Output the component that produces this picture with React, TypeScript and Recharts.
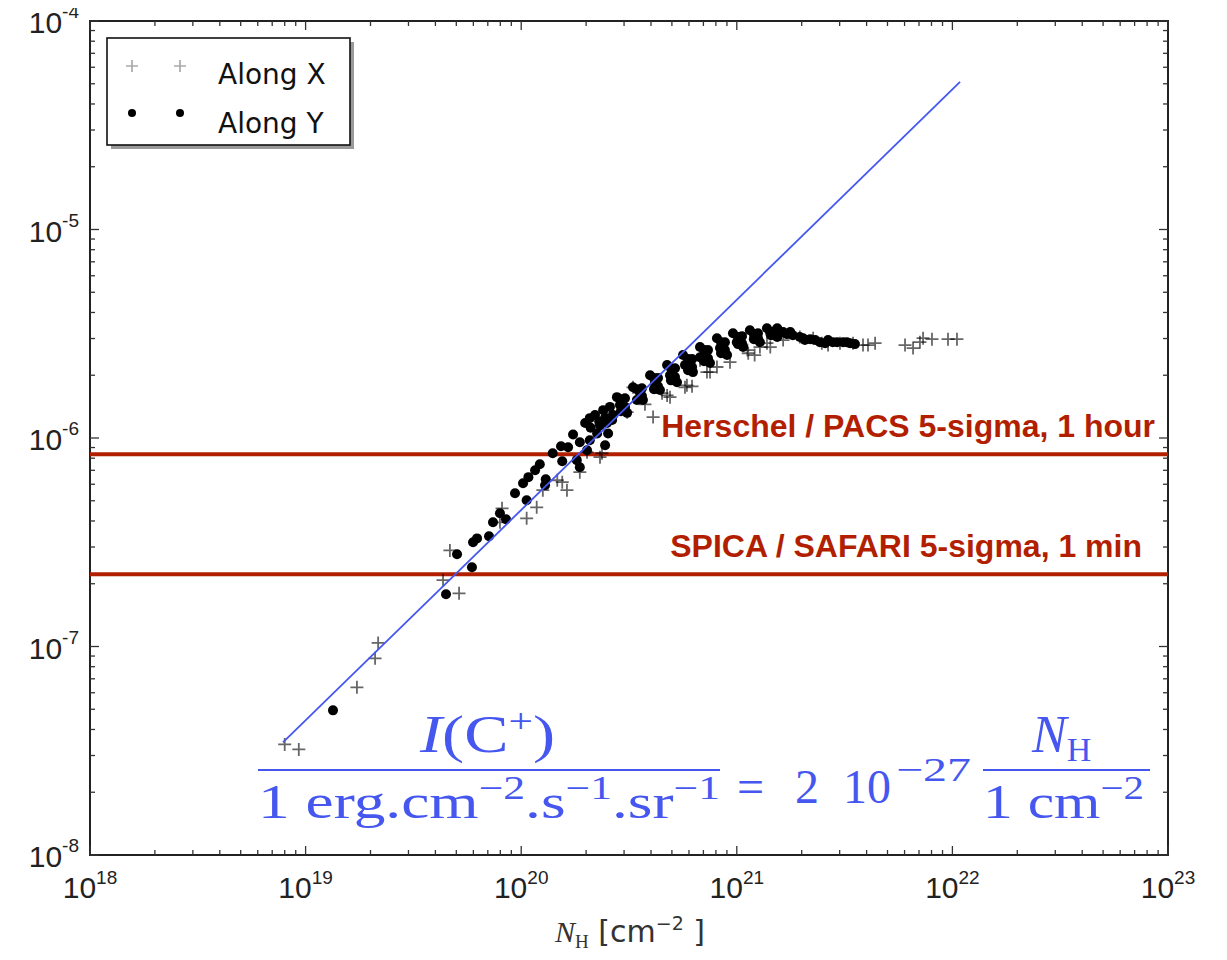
import React from 'react';
import {
  ScatterChart,
  Scatter,
  XAxis,
  YAxis,
  ReferenceLine,
  ReferenceArea,
  Customized,
} from 'recharts';

// ---------- data ----------
const X_DECADES = [1e18, 1e19, 1e20, 1e21, 1e22, 1e23];
const X_EXPONENTS = ['18', '19', '20', '21', '22', '23'];
const Y_DECADES = [1e-8, 1e-7, 1e-6, 1e-5, 1e-4];
const Y_EXPONENTS = ['-8', '-7', '-6', '-5', '-4'];
const MINOR_MULTIPLIERS = [2, 3, 4, 5, 6, 7, 8, 9];

// Along X : [N_H (cm^-2), I(C+) (erg cm^-2 s^-1 sr^-1)]
const alongX: [number, number][] = [
  [8.0e18, 3.39e-8], [9.3e18, 3.21e-8], [1.73e19, 6.37e-8], [2.1e19, 8.78e-8],
  [2.17e19, 1.04e-7], [4.34e19, 2.08e-7], [5.15e19, 1.8e-7], [4.67e19, 2.89e-7],
  [8.15e19, 4.6e-7], [7.97e19, 3.94e-7], [1.06e20, 4.12e-7], [1.18e20, 4.65e-7],
  [1.26e20, 5.62e-7], [1.55e20, 6.14e-7], [1.63e20, 5.62e-7], [1.87e20, 6.86e-7],
  [2.37e20, 8.45e-7], [2.02e20, 8.55e-7], [2.58e20, 1.32e-6], [2.32e20, 8.09e-7],
  [1.47e20, 6.27e-7], [4.09e20, 1.26e-6], [3.75e20, 1.45e-6], [3.1e20, 1.33e-6],
  [4.75e20, 1.6e-6], [5.75e20, 1.75e-6], [4.5e20, 1.64e-6], [4.9e20, 1.57e-6],
  [5.87e20, 1.79e-6], [6.2e20, 1.77e-6], [7.27e20, 2.07e-6], [7.51e20, 2.07e-6],
  [8.09e20, 2.19e-6], [9.3e20, 2.31e-6], [1.12e21, 2.64e-6], [1.13e21, 2.55e-6],
  [1.21e21, 2.5e-6], [1.28e21, 2.73e-6], [1.38e21, 2.85e-6], [1.43e21, 2.73e-6],
  [2.26e21, 3.01e-6], [2.48e21, 2.85e-6], [2.65e21, 2.79e-6], [3.01e21, 2.85e-6],
  [3.46e21, 2.85e-6], [3.85e21, 2.79e-6], [4.06e21, 2.79e-6], [4.38e21, 2.85e-6],
  [6.03e21, 2.79e-6], [6.57e21, 2.7e-6], [7.07e21, 2.88e-6], [7.31e21, 3.01e-6],
  [8.04e21, 2.98e-6], [9.54e21, 2.98e-6], [1.05e22, 2.98e-6], [3.3e20, 1.75e-6],
  [6.75e20, 2.36e-6], [1.64e21, 2.95e-6], [1.96e21, 3.05e-6],
];

// Along Y
const alongY: [number, number][] = [
  [1.34e19, 4.94e-8], [4.48e19, 1.78e-7], [5.04e19, 2.77e-7], [5.91e19, 2.4e-7],
  [5.98e19, 3.16e-7], [6.24e19, 3.3e-7], [7.09e19, 3.38e-7], [7.4e19, 3.94e-7],
  [8.5e19, 4.08e-7], [7.97e19, 4.36e-7], [9.36e19, 5.43e-7], [1.02e20, 6.07e-7],
  [1.08e20, 6.49e-7], [1.06e20, 5.03e-7], [1.16e20, 7.01e-7], [1.22e20, 7.49e-7],
  [1.3e20, 6.34e-7], [1.29e20, 5.94e-7], [1.4e20, 8.45e-7], [1.55e20, 7.74e-7],
  [1.53e20, 9.13e-7], [1.65e20, 9.03e-7], [1.74e20, 1.04e-6], [1.81e20, 7.83e-7],
  [1.87e20, 7.24e-7], [1.87e20, 9.54e-7], [1.98e20, 1.18e-6], [2.02e20, 8.74e-7],
  [2.2e20, 1.29e-6], [2.25e20, 1.05e-6], [2.4e20, 1.36e-6], [2.53e20, 1.05e-6],
  [2.58e20, 1.41e-6], [2.1e20, 1.12e-6], [2.3e20, 1.2e-6], [2.45e20, 1.25e-6],
  [2.08e20, 9.76e-7], [2.32e20, 1.15e-6], [2.45e20, 9.23e-7], [2.64e20, 1.22e-6],
  [2.08e20, 1.245e-6],
  [2.78e20, 1.57e-6], [3.3e20, 1.75e-6], [3.96e20, 2.0e-6], [4.75e20, 2.24e-6],
  [5.63e20, 2.5e-6], [6.75e20, 2.73e-6], [8.09e20, 3.01e-6], [9.6e20, 3.18e-6],
  [1.15e21, 3.29e-6], [1.38e21, 3.36e-6], [1.54e21, 3.36e-6], [1.64e21, 3.22e-6],
  [1.77e21, 3.22e-6], [1.96e21, 3.05e-6], [2.31e21, 2.95e-6],
  [2.5e20, 1.18e-6], [3.1e20, 1.32e-6], [3.67e20, 1.52e-6], [4.4e20, 1.7e-6],
  [5.28e20, 1.85e-6], [6.26e20, 2.07e-6], [7.51e20, 2.29e-6], [9.01e20, 2.5e-6],
  [1.07e21, 2.73e-6], [1.28e21, 2.88e-6], [1.54e21, 3.05e-6],
  [2.67e20, 1.29e-6], [2.87e20, 1.44e-6], [3.56e20, 1.64e-6], [4.17e20, 1.83e-6],
  [4.9e20, 2.0e-6], [5.75e20, 2.24e-6], [6.75e20, 2.44e-6], [8.36e20, 2.7e-6],
  [1.0e21, 2.88e-6], [1.21e21, 3.05e-6], [1.43e21, 3.18e-6], [1.82e21, 3.11e-6],
  [2.03e21, 3.01e-6],
  [3.03e20, 1.55e-6], [3.63e20, 1.73e-6], [4.31e20, 1.94e-6], [5.17e20, 2.16e-6],
  [6.2e20, 2.39e-6], [7.35e20, 2.64e-6], [8.81e20, 2.88e-6], [1.057e21, 3.08e-6],
  [1.254e21, 3.18e-6], [1.504e21, 3.25e-6],
  [3.03e20, 1.41e-6], [3.63e20, 1.59e-6], [4.31e20, 1.77e-6], [5.17e20, 1.96e-6],
  [6.2e20, 2.19e-6], [7.35e20, 2.41e-6], [8.81e20, 2.64e-6], [1.057e21, 2.85e-6],
  [1.254e21, 3.01e-6], [1.504e21, 3.11e-6],
  [2.9e20, 1.535e-6], [2.9e20, 1.345e-6], [3.44e20, 1.715e-6], [3.44e20, 1.52e-6],
  [4.13e20, 1.94e-6], [4.13e20, 1.715e-6], [4.95e20, 2.16e-6], [4.95e20, 1.89e-6],
  [5.94e20, 2.39e-6], [5.94e20, 2.115e-6], [7.05e20, 2.64e-6], [7.05e20, 2.335e-6],
  [8.45e20, 2.88e-6], [8.45e20, 2.55e-6], [1.013e21, 3.05e-6], [1.013e21, 2.82e-6],
  [1.2e21, 3.15e-6], [1.2e21, 2.98e-6], [1.44e21, 3.22e-6], [1.44e21, 3.11e-6],
  [1.71e21, 3.15e-6],
  [2.07e21, 2.95e-6], [2.19e21, 2.98e-6], [2.43e21, 2.88e-6], [2.57e21, 2.85e-6],
  [2.79e21, 2.88e-6], [3.35e21, 2.85e-6], [3.53e21, 2.82e-6],
  [2.65e21, 2.95e-6], [2.92e21, 2.88e-6], [3.11e21, 2.88e-6], [3.24e21, 2.88e-6],
];

// linear fit drawn in the figure
const fitLine: [number, number][] = [
  [7.85e18, 3.47e-8],
  [1.085e22, 5.1e-5],
];

// detection limits
const LIMIT_VALUES = [8.36e-7, 2.22e-7];
const LIMIT_LABELS = ['Herschel / PACS 5-sigma, 1 hour', 'SPICA / SAFARI 5-sigma, 1 min'];
const LIMIT_LABEL_INSET = [13, 26];

const SERIES_NAMES = ['Along X', 'Along Y'];

// ---------- derived ----------
const toPoints = (arr: [number, number][]) => arr.map(([x, y]) => ({ x, y }));
const xTicks = X_DECADES.flatMap((d, i) =>
  i < X_DECADES.length - 1 ? [d, ...MINOR_MULTIPLIERS.map((m) => d * m)] : [d]
);
const yTicks = Y_DECADES.flatMap((d, i) =>
  i < Y_DECADES.length - 1 ? [d, ...MINOR_MULTIPLIERS.map((m) => d * m)] : [d]
);
const isMajor = (v: number) => {
  const l = Math.log10(v);
  return Math.abs(l - Math.round(l)) < 1e-6;
};

// ---------- styling ----------
const W = 1219;
const H = 952;
const MARGIN = { top: 21, right: 51, bottom: 0, left: 0 };
const Y_AXIS_W = 90;
const X_AXIS_H = 97;
const PLOT_W = W - MARGIN.right - Y_AXIS_W;
const PLOT_H = H - MARGIN.top - X_AXIS_H;
const RED = '#b21f00';
const BLUE = '#4557ef';
const TICK_COLOR = '#333';
const TICK_FONT = "'Liberation Sans', Arial, sans-serif";
const MAJOR_LEN = 9;
const MINOR_LEN = 5;

const XTick = (props: any) => {
  const { x, y, payload } = props;
  const v = payload.value;
  const major = isMajor(v);
  const len = major ? MAJOR_LEN : MINOR_LEN;
  const idx = X_DECADES.findIndex((d) => Math.abs(Math.log10(d) - Math.log10(v)) < 1e-6);
  return (
    <g>
      <line x1={x} x2={x} y1={y} y2={y - len} stroke={TICK_COLOR} strokeWidth={1.3} />
      <line x1={x} x2={x} y1={y - PLOT_H} y2={y - PLOT_H + len} stroke={TICK_COLOR} strokeWidth={1.3} />
      {major && idx >= 0 && (
        <text x={x} y={y + 43} textAnchor="middle" fontFamily={TICK_FONT} fontSize={30} fill="#222">
          10<tspan dy={-14} fontSize={19}>{X_EXPONENTS[idx]}</tspan>
        </text>
      )}
    </g>
  );
};

const YTick = (props: any) => {
  const { x, y, payload } = props;
  const v = payload.value;
  const major = isMajor(v);
  const len = major ? MAJOR_LEN : MINOR_LEN;
  const idx = Y_DECADES.findIndex((d) => Math.abs(Math.log10(d) - Math.log10(v)) < 1e-6);
  return (
    <g>
      <line x1={x} x2={x + len} y1={y} y2={y} stroke={TICK_COLOR} strokeWidth={1.3} />
      <line x1={x + PLOT_W} x2={x + PLOT_W - len} y1={y} y2={y} stroke={TICK_COLOR} strokeWidth={1.3} />
      {major && idx >= 0 && (
        <text x={x - 11} y={y + 12} textAnchor="end" fontFamily={TICK_FONT} fontSize={30} fill="#222">
          10<tspan dy={-15} fontSize={19}>{Y_EXPONENTS[idx]}</tspan>
        </text>
      )}
    </g>
  );
};

const PlusShape = (props: any) => {
  const { cx, cy } = props;
  if (cx == null || cy == null) return <g />;
  return (
    <path
      d={`M${cx - 6.5},${cy}h13M${cx},${cy - 6.5}v13`}
      stroke="#000"
      strokeOpacity={0.6}
      strokeWidth={1.8}
      fill="none"
    />
  );
};

const DotShape = (props: any) => {
  const { cx, cy } = props;
  if (cx == null || cy == null) return <g />;
  return <circle cx={cx} cy={cy} r={5} fill="#000" />;
};

const NoShape = () => <g />;

const LimitLabel = (inset: number, text: string) => (props: any) => {
  const vb = props.viewBox || {};
  return (
    <text
      x={vb.x + vb.width - inset}
      y={vb.y - 17}
      textAnchor="end"
      fontFamily="'Liberation Sans', Arial, sans-serif"
      fontWeight="bold"
      fontSize={32}
      fill={RED}
    >
      {text}
    </text>
  );
};

const Overlay = () => {
  const serif = "'Liberation Serif', 'DejaVu Serif', serif";
  return (
    <g>
      {/* legend */}
      <rect x={111} y={42} width={243} height={107} fill="#9a9a9a" />
      <rect x={107} y={38} width={243} height={107} fill="#fff" stroke="#111" strokeWidth={1.6} />
      <path d="M126,66h12M132,60v12M174,66h12M180,60v12" stroke="#aaa" strokeWidth={1.7} />
      <circle cx={132} cy={113} r={4} fill="#000" />
      <circle cx={180} cy={113} r={4} fill="#000" />
      <text x={218} y={84} fontFamily="'DejaVu Sans', sans-serif" fontSize={28} fill="#111">
        {SERIES_NAMES[0]}
      </text>
      <text x={218} y={133} fontFamily="'DejaVu Sans', sans-serif" fontSize={28} fill="#111">
        {SERIES_NAMES[1]}
      </text>

      {/* formula */}
      <g fill={BLUE} fontFamily={serif}>
        <text x={420} y={752} fontSize={52} textLength={135} lengthAdjust="spacingAndGlyphs">
          <tspan fontStyle="italic">I</tspan>(C<tspan dy={-20} fontSize={34}>+</tspan>
          <tspan dy={20}>)</tspan>
        </text>
        <line x1={258} x2={720} y1={770} y2={770} stroke={BLUE} strokeWidth={2} />
        <text x={258} y={818} fontSize={48} textLength={462} lengthAdjust="spacingAndGlyphs">
          1 erg.cm<tspan dy={-19} fontSize={33}>−2</tspan>
          <tspan dy={19}>.s</tspan>
          <tspan dy={-19} fontSize={33}>−1</tspan>
          <tspan dy={19}>.sr</tspan>
          <tspan dy={-19} fontSize={33}>−1</tspan>
        </text>
        <text x={737} y={803} fontSize={48}>=</text>
        <text x={795} y={803} fontSize={48}>2</text>
        <text x={843} y={803} fontSize={48}>10</text>
        <text x={896} y={781} fontSize={34} textLength={75} lengthAdjust="spacingAndGlyphs">−27</text>
        <text x={1032} y={752} fontSize={52}>
          <tspan fontStyle="italic">N</tspan>
          <tspan dy={9} fontSize={34}>H</tspan>
        </text>
        <line x1={983} x2={1150} y1={770} y2={770} stroke={BLUE} strokeWidth={2} />
        <text x={983} y={818} fontSize={48} textLength={161} lengthAdjust="spacingAndGlyphs">
          1 cm<tspan dy={-19} fontSize={33}>−2</tspan>
        </text>
      </g>

      {/* x axis title */}
      <text x={630} y={942} textAnchor="middle" fontSize={30} fill="#333" fontFamily="'DejaVu Sans', sans-serif">
        <tspan fontStyle="italic" fontFamily={serif}>N</tspan>
        <tspan dy={6} fontSize={19} fontFamily={serif}>H</tspan>
        <tspan dy={-6}> [cm</tspan>
        <tspan dy={-12} fontSize={19}>−2</tspan>
        <tspan dy={12}> ]</tspan>
      </text>
    </g>
  );
};

export default function App() {
  return (
    <div style={{ width: W, height: H, margin: '-8px 0 0 -8px', background: '#fff' }}>
      <ScatterChart width={W} height={H} margin={MARGIN}>
        <XAxis
          type="number"
          dataKey="x"
          scale="log"
          domain={[X_DECADES[0], X_DECADES[X_DECADES.length - 1]]}
          ticks={xTicks}
          interval={0}
          tickSize={0}
          tickMargin={0}
          tickLine={false}
          axisLine={false}
          tick={(p: any) => <XTick {...p} />}
          height={X_AXIS_H}
          allowDataOverflow
        />
        <YAxis
          type="number"
          dataKey="y"
          scale="log"
          domain={[Y_DECADES[0], Y_DECADES[Y_DECADES.length - 1]]}
          ticks={yTicks}
          interval={0}
          tickSize={0}
          tickMargin={0}
          tickLine={false}
          axisLine={false}
          tick={(p: any) => <YTick {...p} />}
          width={Y_AXIS_W}
          allowDataOverflow
        />
        <ReferenceArea
          x1={X_DECADES[0]}
          x2={X_DECADES[X_DECADES.length - 1]}
          y1={Y_DECADES[0]}
          y2={Y_DECADES[Y_DECADES.length - 1]}
          fill="none"
          fillOpacity={0}
          stroke="#222"
          strokeWidth={2}
          ifOverflow="visible"
        />
        <Scatter name={SERIES_NAMES[1]} data={toPoints(alongY)} shape={DotShape} isAnimationActive={false} />
        <Scatter name={SERIES_NAMES[0]} data={toPoints(alongX)} shape={PlusShape} isAnimationActive={false} />
        <Scatter
          name="fit"
          data={toPoints(fitLine)}
          line={{ stroke: BLUE, strokeWidth: 1.8 }}
          shape={NoShape}
          isAnimationActive={false}
        />
        {LIMIT_VALUES.map((v, i) => (
          <ReferenceLine
            key={i}
            y={v}
            stroke={RED}
            strokeWidth={4}
            ifOverflow="visible"
            label={LimitLabel(LIMIT_LABEL_INSET[i], LIMIT_LABELS[i])}
          />
        ))}
        <Customized component={Overlay} />
      </ScatterChart>
    </div>
  );
}
